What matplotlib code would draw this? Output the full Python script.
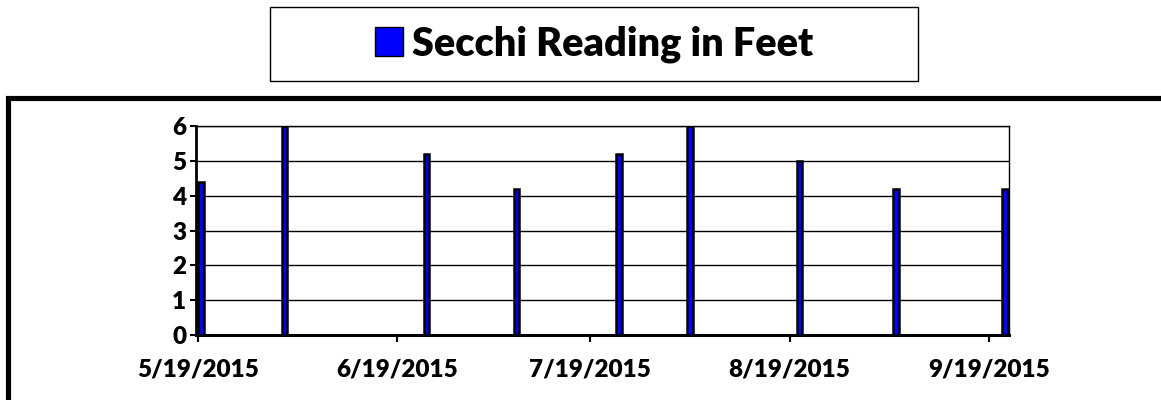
import matplotlib
matplotlib.use("Agg")
import matplotlib.pyplot as plt
import matplotlib.dates as mdates
from matplotlib.patches import Rectangle
import datetime as dt

plt.rcParams['font.family'] = ['Lato', 'DejaVu Sans']

# data
sample_dates = ["2015-05-19", "2015-06-01", "2015-06-23", "2015-07-07", "2015-07-23",
                "2015-08-03", "2015-08-20", "2015-09-04", "2015-09-21"]
secchi_feet = [4.4, 6.0, 5.2, 4.2, 5.2, 6.0, 5.0, 4.2, 4.2]
tick_dates = ["2015-05-19", "2015-06-19", "2015-07-19", "2015-08-19", "2015-09-19"]
tick_labels = ["5/19/2015", "6/19/2015", "7/19/2015", "8/19/2015", "9/19/2015"]
series_name = "Secchi Reading in Feet"

W, H = 1161, 400
fig = plt.figure(figsize=(W / 100, H / 100), dpi=100)

def fx(px):
    return px / W

def fy(py):
    return 1 - py / H

# outer thick frame
fig.patches.append(Rectangle((fx(7.5), fy(401.5)), fx(1175) - fx(7.5), fy(97.5) - fy(401.5),
                             transform=fig.transFigure, fill=False, edgecolor='black',
                             linewidth=3.7, zorder=0))
# legend box
fig.patches.append(Rectangle((fx(270), fy(81)), fx(918) - fx(270), fy(7) - fy(81),
                             transform=fig.transFigure, fill=False, edgecolor='black',
                             linewidth=1.0, zorder=0))

ax = fig.add_axes([fx(196), fy(335), fx(1009) - fx(196), fy(126) - fy(335)])

x = [mdates.date2num(dt.datetime.strptime(d, "%Y-%m-%d")) + 0.5 for d in sample_dates]
bars = ax.bar(x, secchi_feet, width=0.85, color='#0000FF', edgecolor='black',
              linewidth=1.8, zorder=3, label=series_name)

start = mdates.date2num(dt.datetime.strptime(tick_dates[0], "%Y-%m-%d"))
ax.set_xlim(start - 0.3, start + 126.1)
ax.set_ylim(0, 6)
ax.set_yticks(range(0, 7))
ax.set_xticks([mdates.date2num(dt.datetime.strptime(d, "%Y-%m-%d")) for d in tick_dates])
ax.set_xticklabels(tick_labels)

ax.yaxis.grid(True, color='black', linewidth=1.0, zorder=1)
ax.set_axisbelow(True)

for lab in ax.get_xticklabels() + ax.get_yticklabels():
    lab.set_fontweight('heavy')
    lab.set_fontsize(17.5)

ax.tick_params(axis='x', direction='out', length=5, width=1.5, pad=12)
ax.tick_params(axis='y', direction='out', length=4, width=1.5, pad=3)

ax.spines['left'].set_linewidth(2)
ax.spines['bottom'].set_linewidth(2.2)
ax.spines['top'].set_linewidth(1.0)
ax.spines['right'].set_linewidth(1.0)

leg = fig.legend(handles=[bars], labels=[series_name], loc='center',
                 bbox_to_anchor=(fx(594), fy(44)), frameon=False,
                 prop={'weight': 'heavy', 'size': 28.5},
                 handlelength=0.72, handleheight=0.72, handletextpad=0.22)
for h in leg.legend_handles:
    h.set_linewidth(1.0)

fig.savefig("out.png", dpi=100)
